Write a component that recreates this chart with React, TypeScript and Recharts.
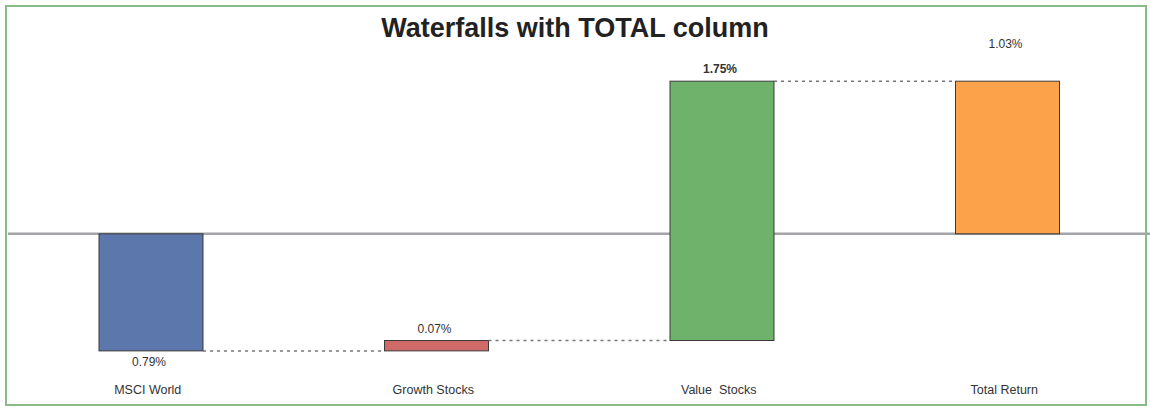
import React from 'react';
import { BarChart, Bar, XAxis, YAxis, CartesianGrid } from 'recharts';

// waterfall data
const categories = ['MSCI World', 'Growth Stocks', 'Value  Stocks', 'Total Return'];
const changes = [-0.79, 0.07, 1.75, 1.03];
const isTotal = [false, false, false, true];
const valueLabels = ['0.79%', '0.07%', '1.75%', '1.03%'];
const colors = ['#5b77ab', '#d06a68', '#6fb26c', '#fca24a'];

const W = 1150;
const H = 408;
const MARGIN = { top: 56, right: 0, bottom: 0, left: 8 };
const PLOT_W = W - MARGIN.left - MARGIN.right;
const BAR = 104;

// build running totals
let running = 0;
const data = categories.map((name, i) => {
  let low: number;
  let high: number;
  let end: number;
  if (isTotal[i]) {
    low = Math.min(0, running);
    high = Math.max(0, running);
    end = running;
  } else {
    const start = running;
    running = running + changes[i];
    low = Math.min(start, running);
    high = Math.max(start, running);
    end = running;
  }
  return { name, range: [low, high], end, label: valueLabels[i], color: colors[i], total: isTotal[i], idx: i };
});

const WaterfallBar = (props: any) => {
  const { x, y, width, height, payload } = props;
  const top = height < 0 ? y + height : y;
  const h = Math.abs(height);
  const bottom = top + h;
  const band = PLOT_W / categories.length;
  const gap = band - width;
  const endsHigh = payload.end === payload.range[1];
  const lineY = endsHigh ? top : bottom;
  const last = payload.idx === categories.length - 1;
  const negative = payload.end < 0 && !payload.total && payload.range[0] === payload.end && payload.idx === 0;
  let labelY = top - 8;
  if (negative) labelY = bottom + 15;
  if (payload.total) labelY = top - 33;
  return (
    <g>
      <rect x={x} y={top} width={width} height={h} fill={payload.color} stroke="#3a3a3a" strokeWidth={1} />
      {!last && (
        <line x1={x + width} y1={lineY} x2={x + width + gap} y2={lineY} stroke="#777" strokeWidth={1.5} strokeDasharray="3 4" />
      )}
      <text
        x={x + width / 2 - 2}
        y={labelY}
        textAnchor="middle"
        fontSize={12}
        fontWeight={payload.idx === 2 ? 'bold' : 'normal'}
        fill="#333"
        fontFamily="Liberation Sans, Arial, sans-serif"
      >
        {payload.label}
      </text>
    </g>
  );
};

const CategoryTick = (props: any) => {
  const { x, y, payload } = props;
  return (
    <text x={x - 3} y={y} dy={12} textAnchor="middle" fontSize={12.5} fill="#333" fontFamily="Liberation Sans, Arial, sans-serif" style={{ whiteSpace: 'pre' }}>
      {payload.value}
    </text>
  );
};

export default function App() {
  return (
    <div style={{ position: 'absolute', left: 0, top: 0, width: W, height: H, background: '#fff' }}>
      <div
        style={{
          position: 'absolute',
          left: 0,
          top: 15,
          width: W,
          textAlign: 'center',
          fontFamily: 'Liberation Sans, Arial, sans-serif',
          fontWeight: 'bold',
          fontSize: 27,
          lineHeight: '26px',
          color: '#222',
        }}
      >
        Waterfalls with TOTAL column
      </div>
      <BarChart width={W} height={H} data={data} margin={MARGIN}>
        {/* zero line drawn as a grid line so it sits behind the bars */}
        <CartesianGrid vertical={false} horizontalValues={[0]} stroke="#a3a3a8" strokeWidth={2.5} />
        <XAxis dataKey="name" axisLine={false} tickLine={false} tickSize={0} tickMargin={0} height={26} tick={<CategoryTick />} interval={0} />
        <YAxis hide domain={[-1, 1.2]} type="number" />
        <Bar dataKey="range" barSize={BAR} shape={<WaterfallBar />} isAnimationActive={false} />
      </BarChart>
      <div
        style={{
          position: 'absolute',
          left: 5,
          top: 5,
          width: 1138,
          height: 397,
          border: '2px solid #88bb88',
          pointerEvents: 'none',
        }}
      />
    </div>
  );
}
